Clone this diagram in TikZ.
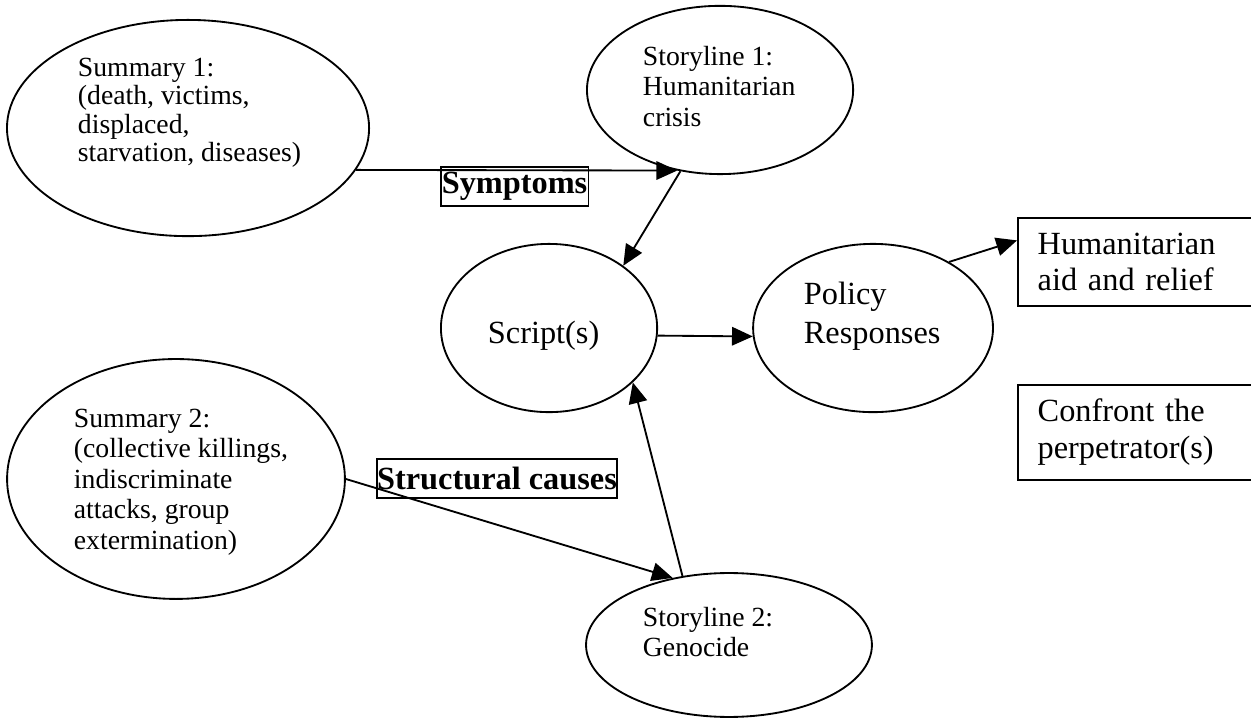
\documentclass[tikz,border=0pt]{standalone}
\usepackage{fontspec}
\setmainfont{Liberation Serif}
\usetikzlibrary{calc, arrows.meta, shapes.geometric}

\tikzset{
  oval/.style={draw, ellipse, inner sep=0pt},
  words/.style={anchor=north west, inner sep=0pt, align=left, font=\fontsize{12}{13.2}\selectfont},
  bigwords/.style={words, font=\fontsize{14}{16.9}\selectfont},
  resp/.style={draw, rectangle, anchor=north west, text width=4cm, inner xsep=0.3cm, align=left, font=\fontsize{14}{16}\selectfont},
  tag/.style={draw, rectangle, inner xsep=0.5pt, inner ysep=1.5pt, minimum height=0.59cm, font=\fontsize{14}{16.5}\selectfont\bfseries},
}

\begin{document}
\begin{tikzpicture}[>={Triangle[length=9pt, width=8pt]}, line width=0.8pt]
  \useasboundingbox (0, 0) rectangle (19.035, -10.94);
  \clip (0, 0) rectangle (19.035, -10.94);

  % summaries and storylines
  \node[oval, minimum width=5.51cm, minimum height=3.29cm] (s1) at (2.861, -1.948) {};
  \node[words, font=\fontsize{12}{12.3}\selectfont] (s1txt) at (1.172, -0.867)
    {Summary 1:\\(death, victims,\\displaced,\\starvation, diseases)};
  \node[oval, minimum width=4.05cm, minimum height=2.56cm] (t1) at (10.956, -1.369) {};
  \node[words] (t1txt) at (9.769, -0.685) {Storyline 1:\\Humanitarian\\crisis};
  \node[oval, minimum width=5.14cm, minimum height=3.65cm] (s2) at (2.678, -7.288) {};
  \node[words] (s2txt) at (1.111, -6.208)
    {Summary 2:\\(collective killings,\\indiscriminate\\attacks, group\\extermination)};
  \node[oval, minimum width=4.35cm, minimum height=2.19cm] (t2) at (11.092, -9.814) {};
  \node[words] (t2txt) at (9.769, -9.221) {Storyline 2:\\Genocide};

  \node[oval, minimum width=3.29cm, minimum height=2.56cm] (sc) at (8.354, -4.991) {};
  \node[bigwords] (sctxt) at (7.410, -4.869) {Script(s)};
  \node[oval, minimum width=3.65cm, minimum height=2.56cm] (po) at (13.284, -4.991) {};
  \node[bigwords] (potxt) at (12.218, -4.276) {Policy\\Responses};

  % responses
  \node[resp, minimum height=1.34cm] (hum) at (15.475, -3.302) {Humanitarian\\aid and relief};
  \node[resp, minimum height=1.445cm] (conf) at (15.475, -5.843) {Confront the\\perpetrator(s)};

  % labels
  \node[tag] (symp) at (7.829, -2.838) {Symptoms};
  \node[tag, inner xsep=0pt] (caus) at (7.562, -7.281) {Structural causes};

  \draw[->] (s1.-14) -- (t1.242);
  \draw[->] (t1.244) -- (sc.40);
  \draw[->] (sc.-4) -- (po.184);
  \draw[->] (po.41) -- ($(hum.north west)!0.26!(hum.south west)$);
  \draw[->] (s2.east) -- (t2.130);
  \draw[->] (t2.124) -- (sc.-33);
\end{tikzpicture}
\end{document}
